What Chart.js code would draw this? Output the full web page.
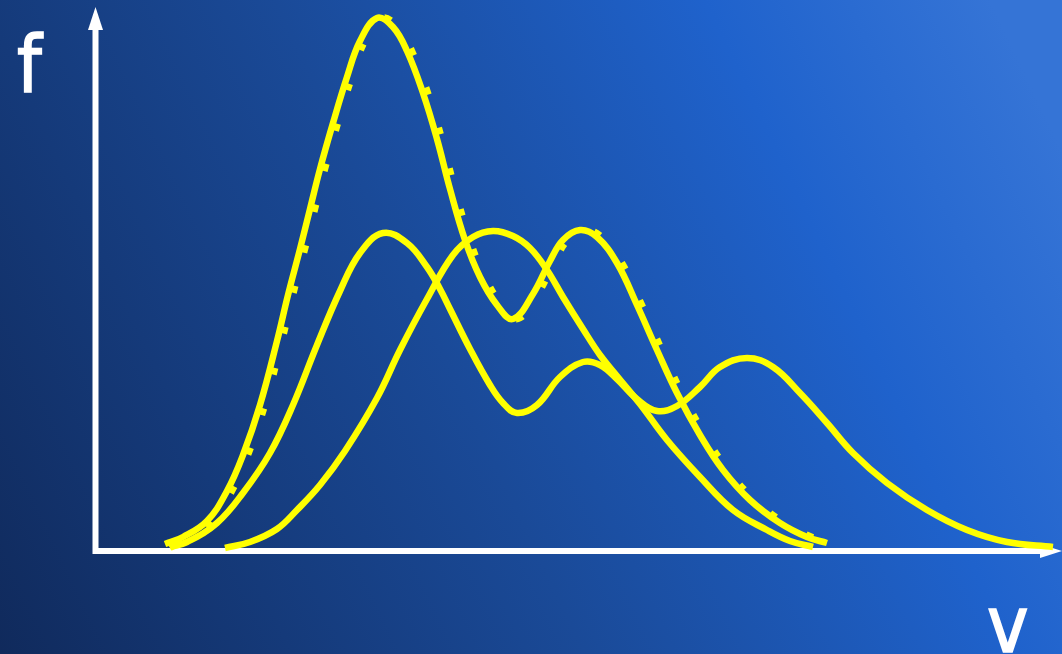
<!DOCTYPE html>
<html>
<head>
<meta charset="utf-8">
<script src="https://cdn.jsdelivr.net/npm/chart.js@4"></script>
<style>
  body { margin: 0; }
  #wrap { width: 1062px; height: 654px; }
</style>
</head>
<body>
<div id="wrap"><canvas id="distChart"></canvas></div>
<script>
// curve readings: speed v (x) and f(v) (y), in arbitrary units
const vA = [69, 87, 111, 131, 147, 164, 181, 192, 204, 214, 224, 237, 251, 264, 281, 297, 311, 327, 341, 354, 369, 384, 401, 417, 437, 454, 467, 484, 501, 521, 541, 561, 581, 604, 627, 654, 684, 711, 731];
const fA = [7, 14, 30, 60, 96, 146, 210, 256, 302, 342, 382, 428, 474, 510, 533, 524, 500, 458, 412, 362, 311, 274, 246, 232, 257, 290, 311, 321, 314, 288, 246, 201, 158, 116, 81, 51, 28, 14, 8];

// dotted curve lies just right of A
const vSum = [74, 92, 116, 136, 152, 169, 186, 197, 209, 219, 229, 242, 256, 269, 286, 302, 316, 332, 346, 359, 374, 389, 406, 422, 442, 459, 472, 489, 506, 526, 546, 566, 586, 609, 632, 659, 689, 716, 736];
const fSum = [3, 14, 30, 60, 96, 146, 210, 256, 302, 342, 382, 428, 474, 510, 533, 524, 500, 458, 412, 362, 311, 274, 246, 232, 257, 290, 311, 321, 314, 288, 246, 201, 158, 116, 81, 51, 28, 14, 8];

const vB = [74, 91, 121, 147, 174, 197, 221, 244, 264, 287, 311, 331, 344, 354, 374, 394, 407, 421, 441, 464, 487, 504, 521, 541, 561, 581, 604, 624, 651, 677, 704, 731, 757, 791, 831, 871, 911, 957];
const fB = [4, 9, 28, 58, 98, 146, 206, 260, 298, 318, 308, 284, 262, 242, 202, 166, 148, 138, 146, 174, 189, 186, 172, 152, 140, 145, 164, 184, 193, 184, 158, 128, 98, 68, 41, 21, 9, 4];

const vC = [129, 154, 181, 201, 224, 249, 281, 304, 331, 357, 377, 397, 417, 434, 451, 467, 487, 504, 521, 544, 571, 604, 637, 671, 694, 717];
const fC = [3, 9, 22, 41, 66, 100, 153, 201, 252, 296, 314, 320, 315, 303, 281, 254, 222, 196, 175, 147, 111, 74, 41, 21, 10, 4];

const axisLabels = ['f', 'v'];

function pts(xs, ys) {
  return xs.map((x, i) => ({ x: x, y: ys[i] }));
}

const bgPlugin = {
  id: 'bg',
  beforeDraw(chart) {
    const ctx = chart.ctx;
    const g = ctx.createLinearGradient(0, chart.height, chart.width, 150);
    g.addColorStop(0, '#102a5c');
    g.addColorStop(0.45, '#1a4a98');
    g.addColorStop(0.78, '#1f62cc');
    g.addColorStop(1, '#3574d6');
    ctx.save();
    ctx.fillStyle = g;
    ctx.fillRect(0, 0, chart.width, chart.height);
    ctx.restore();
  }
};

const axesPlugin = {
  id: 'arrows',
  beforeDatasetsDraw(chart) {
    const ctx = chart.ctx;
    const x0 = chart.scales.x.getPixelForValue(0);
    const y0 = chart.scales.y.getPixelForValue(0);
    const top = chart.chartArea.top;
    const w = chart.width;
    ctx.save();
    ctx.strokeStyle = '#ffffff';
    ctx.fillStyle = '#ffffff';
    ctx.lineWidth = 6;
    ctx.beginPath();
    ctx.moveTo(x0 - 0.5, y0 + 3);
    ctx.lineTo(x0 - 0.5, top + 20);
    ctx.moveTo(x0 - 3, y0);
    ctx.lineTo(w - 20, y0);
    ctx.stroke();
    // arrow heads
    ctx.beginPath();
    ctx.moveTo(x0 - 0.5, top - 1);
    ctx.lineTo(x0 - 8, top + 22);
    ctx.lineTo(x0 + 7, top + 22);
    ctx.closePath();
    ctx.fill();
    ctx.beginPath();
    ctx.moveTo(w, y0);
    ctx.lineTo(w - 22, y0 - 7);
    ctx.lineTo(w - 22, y0 + 7);
    ctx.closePath();
    ctx.fill();
    ctx.font = '78px "Liberation Sans Narrow", "DejaVu Sans Condensed", sans-serif';
    ctx.textBaseline = 'alphabetic';
    ctx.lineWidth = 1.5;
    ctx.fillText(axisLabels[0], 17, 92);
    ctx.strokeText(axisLabels[0], 17, 92);
    ctx.fillText(axisLabels[1], 987, 652);
    ctx.strokeText(axisLabels[1], 987, 652);
    ctx.restore();
  }
};

const line = {
  borderColor: '#ffff00',
  borderWidth: 6.5,
  borderCapStyle: 'butt',
  pointRadius: 0,
  tension: 0.4,
  fill: false,
  clip: false
};

new Chart(document.getElementById('distChart'), {
  type: 'line',
  data: {
    datasets: [
      Object.assign({ data: pts(vSum, fSum), borderDash: [7, 35], order: 5 }, line),
      Object.assign({ data: pts(vA, fA), order: 1 }, line),
      Object.assign({ data: pts(vB, fB), order: 2 }, line),
      Object.assign({ data: pts(vC, fC), order: 3 }, line)
    ]
  },
  options: {
    responsive: true,
    maintainAspectRatio: false,
    animation: false,
    layout: { padding: { left: 96, right: 4, top: 8, bottom: 103 } },
    plugins: { legend: { display: false }, tooltip: { enabled: false } },
    scales: {
      x: { type: 'linear', display: false, min: 0, max: 962 },
      y: { type: 'linear', display: false, min: 0, max: 543 }
    }
  },
  plugins: [bgPlugin, axesPlugin]
});
</script>
</body>
</html>
